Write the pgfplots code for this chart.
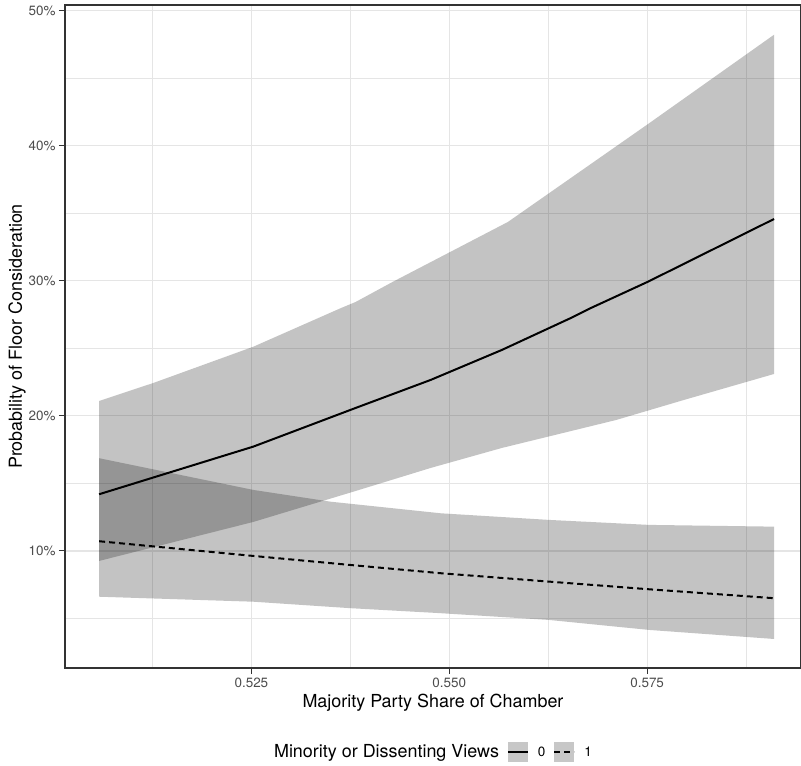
\documentclass[border=0pt]{standalone}
\usepackage{fontspec}
\setmainfont{TeX Gyre Heros}
\usepackage{pgfplots}
\pgfplotsset{compat=1.18}
\definecolor{gridc}{gray}{0.90}
\definecolor{axc}{gray}{0.2}
\definecolor{tickc}{gray}{0.3}
\definecolor{keyc}{gray}{0.78}
\begin{document}
\begin{tikzpicture}
\path[use as bounding box] (-65bp,-98bp) rectangle (736bp,668bp);
\begin{axis}[
    at={(0,0)}, anchor=south west,
    scale only axis, width=736bp, height=663bp,
    xmin=0.50145, xmax=0.59444, ymin=1.33, ymax=50.44,
    xtick={0.525,0.55,0.575}, xticklabels={0.525,0.550,0.575},
    ytick={10,20,30,40,50}, yticklabels={10\%,20\%,30\%,40\%,50\%},
    minor xtick={0.5125,0.5375,0.5625,0.5875},
    minor ytick={5,15,25,35,45},
    grid=both,
    major grid style={gridc, line width=1.1bp},
    minor grid style={gridc, line width=0.6bp},
    tick align=outside, tick pos=left,
    major tick length=6bp, minor tick length=0pt,
    tick style={axc, line width=1bp},
    axis line style={axc, line width=1.1bp},
    tick label style={font=\fontsize{13.5}{16}\selectfont, text=tickc},
    label style={font=\fontsize{18}{21}\selectfont},
    xlabel={Majority Party Share of Chamber},
    ylabel={Probability of Floor Consideration},
    xlabel style={at={(axis description cs:0.5,-0.0528)}, anchor=center},
    ylabel style={at={(axis description cs:-0.0652,0.5)}, anchor=center},
    legend columns=-1,
    legend cell align=left,
    legend style={at={(0.5,-0.1267)}, anchor=center, draw=none, fill=none,
        font=\fontsize{13.5}{16}\selectfont,
        /tikz/every even column/.append style={column sep=6bp}},
    legend image code/.code={
        \path[draw=none] (0bp,0bp) -- (28bp,0bp);
        \fill[keyc, draw=none] (0bp,-10bp) rectangle (20bp,10bp);
        \draw[#1] (0bp,0bp) -- (20bp,0bp);},
]
% confidence band, group 0 (upper edge then lower edge reversed)
\addplot[draw=none, fill=black, fill opacity=0.235, forget plot] coordinates {
    (0.50576,21.11) (0.51260,22.44) (0.52525,25.13) (0.53627,27.98)
    (0.53816,28.44) (0.54285,29.93) (0.55741,34.37) (0.57513,41.63)
    (0.59104,48.24)
    (0.59104,23.11) (0.57968,21.19) (0.57108,19.70) (0.55665,17.63)
    (0.54766,16.15) (0.53816,14.44) (0.52525,12.15) (0.50576,9.26)
} -- cycle;
% confidence band, group 1
\addplot[draw=none, fill=black, fill opacity=0.235, forget plot] coordinates {
    (0.50576,16.87) (0.52525,14.52) (0.53500,13.65) (0.54892,12.79)
    (0.56259,12.30) (0.57525,11.93) (0.59104,11.80)
    (0.59104,3.48) (0.57525,4.15) (0.56259,4.89) (0.54892,5.39)
    (0.53753,5.76) (0.52525,6.24) (0.50576,6.61)
} -- cycle;
\addlegendimage{empty legend}
\addplot[black, line width=2bp] coordinates {
    (0.50576,14.20) (0.52525,17.73) (0.53816,20.59) (0.54766,22.67)
    (0.55665,24.89) (0.56538,27.26) (0.56791,28.00) (0.57513,29.95)
    (0.59104,34.59)
};
\addplot[black, line width=2bp, dash pattern=on 6bp off 4bp] coordinates {
    (0.50576,10.72) (0.52525,9.63) (0.53753,8.96) (0.54892,8.35)
    (0.56259,7.73) (0.57525,7.16) (0.59104,6.50)
};
\legend{{\fontsize{18}{21}\selectfont Minority or Dissenting Views},0\hspace{6bp},1}
\end{axis}
\end{tikzpicture}
\end{document}
